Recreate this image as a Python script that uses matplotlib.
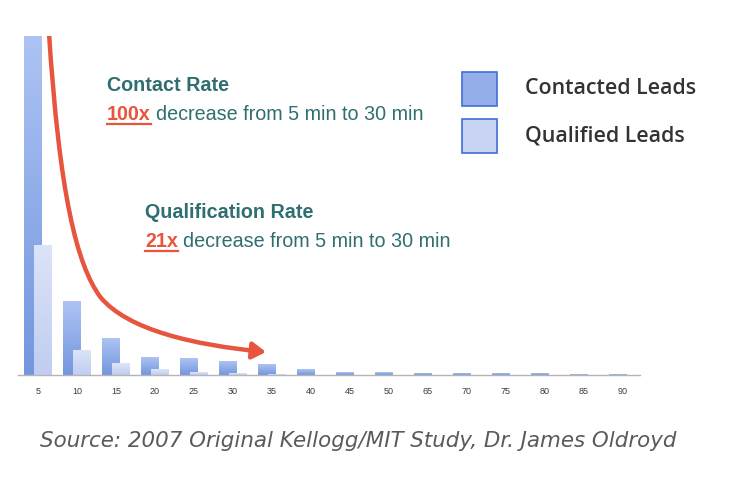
import matplotlib.pyplot as plt
import numpy as np
from matplotlib.path import Path
from matplotlib.patches import FancyArrowPatch, Rectangle
from matplotlib.colors import LinearSegmentedColormap

# minutes until first call
minutes = ['5', '10', '15', '20', '25', '30', '35', '40', '45', '50', '65', '70', '75', '80', '85', '90']
# bar heights (relative units, first bar runs off the top)
contacted = [339, 74, 37, 18, 17, 14, 11, 6, 3, 2.5, 2, 2, 1.5, 1.2, 0.8, 0.5]
qualified = [130, 25, 12, 6, 3, 1.5, 0.5, 0, 0, 0, 0, 0, 0, 0, 0, 0]

teal = '#2f6f70'
red = '#e8553f'

fig = plt.figure(figsize=(7.3, 4.82), dpi=100)
ax = fig.add_axes([18 / 730, 107 / 482, 622 / 730, 339 / 482])

x = np.arange(len(minutes))
w = 0.44

cmap_c = LinearSegmentedColormap.from_list('c', ['#7396dd', '#adc3f4'])
cmap_q = LinearSegmentedColormap.from_list('q', ['#c0cdf1', '#dce4f8'])

def gradient_bars(xs, hs, cmap):
    bars = ax.bar(xs, hs, width=w, color='none', edgecolor='none', zorder=2)
    grad = np.linspace(0, 1, 256).reshape(-1, 1)
    for b in bars:
        h = b.get_height()
        if h <= 0:
            continue
        x0 = b.get_x()
        ax.imshow(grad, cmap=cmap, origin='lower', aspect='auto',
                  extent=[x0, x0 + b.get_width(), 0, h], zorder=2)
    return bars

gradient_bars(x - 0.13, contacted, cmap_c)
gradient_bars(x + 0.13, qualified, cmap_q)

ax.set_xlim(-0.51, 15.44)
ax.set_ylim(0, 339)
ax.set_xticks(x)
ax.set_xticklabels(minutes, fontsize=6.5, color='#3a3a3a', family='Liberation Sans')
ax.tick_params(axis='x', length=0, pad=9)
ax.set_yticks([])
for s in ['top', 'right', 'left']:
    ax.spines[s].set_visible(False)
ax.spines['bottom'].set_color('#b5b5b5')
ax.spines['bottom'].set_linewidth(1)

# red arrow
verts = [(0.28, 345), (0.55, 180), (1.0, 110), (1.6, 78),
         (2.3, 45), (4.0, 30), (5.85, 23)]
codes = [Path.MOVETO] + [Path.CURVE4] * 6
arrow = FancyArrowPatch(path=Path(verts, codes), arrowstyle='-|>,head_length=8,head_width=5',
                        color=red, lw=3.2, zorder=4)
ax.add_patch(arrow)

# annotations
fs = 14.2

def rate_block(px, py, title, factor):
    fig.text(px / 730, 1 - py / 482, title, fontsize=fs, fontweight='bold', color=teal,
             family='Liberation Sans', va='baseline')
    t1 = fig.text(px / 730, 1 - (py + 29) / 482, factor, fontsize=fs, fontweight='bold',
                  color=red, family='Liberation Sans', va='baseline')
    fig.canvas.draw()
    bb = t1.get_window_extent()
    fig.text(bb.x1 / 730 + 5 / 730, 1 - (py + 29) / 482, 'decrease from 5 min to 30 min',
             fontsize=fs, color=teal, family='Liberation Sans', va='baseline')
    uy = 1 - (py + 33) / 482
    fig.add_artist(plt.Line2D([bb.x0 / 730, bb.x1 / 730], [uy, uy], color=red, lw=1.6))

rate_block(107, 91, 'Contact Rate', '100x')
rate_block(145, 218, 'Qualification Rate', '21x')

# legend
for py, fc, lab in [(72, '#93aee8', 'Contacted Leads'), (119, '#c9d4f4', 'Qualified Leads')]:
    fig.add_artist(Rectangle((462 / 730, 1 - (py + 34) / 482), 35 / 730, 34 / 482,
                             facecolor=fc, edgecolor='#3d70d9', lw=1.2,
                             transform=fig.transFigure))
    fig.text(525 / 730, 1 - (py + 17) / 482, lab, fontsize=15.4, fontweight='semibold',
             color='#333333', family='Open Sans', va='center')

fig.text(40 / 730, 1 - 441 / 482, 'Source: 2007 Original Kellogg/MIT Study, Dr. James Oldroyd',
         fontsize=15.4, style='italic', color='#5a5a5a',
         family='DejaVu Sans', va='center')

fig.savefig('out.png', dpi=100)
